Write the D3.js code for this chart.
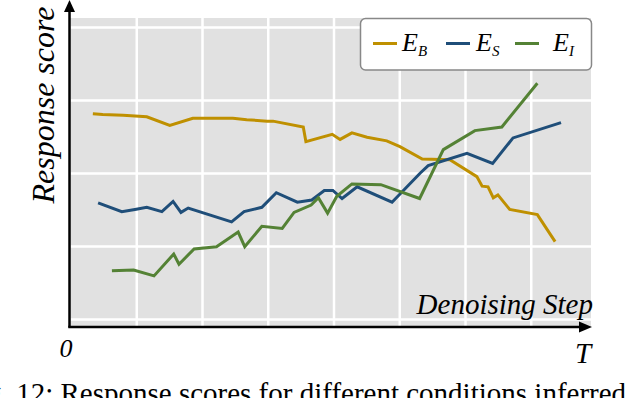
<!DOCTYPE html>
<html>
<head>
<meta charset="utf-8">
<script src="https://cdn.jsdelivr.net/npm/d3@7"></script>
</head>
<body style="margin:0">
<script>
// denoising step (0..~79) and response score (grid units)
const seriesNames = ['B', 'S', 'I'];
const seriesColors = ['#BF9000', '#1F4E79', '#548235'];

const ebX = [3.4, 4.9, 8.0, 9.8, 11.6, 15.1, 18.6, 24.7, 26.8, 29.9, 30.8, 35.4, 35.8, 39.8, 41.0, 42.8, 45.1, 48.1, 50.1, 53.5, 57.7, 61.8, 62.6, 63.5, 64.3, 65.0, 66.8, 71.0, 73.7];
const ebY = [2.81, 2.80, 2.79, 2.78, 2.77, 2.65, 2.75, 2.75, 2.73, 2.71, 2.71, 2.63, 2.43, 2.53, 2.46, 2.55, 2.49, 2.44, 2.36, 2.19, 2.18, 1.95, 1.82, 1.81, 1.66, 1.70, 1.50, 1.43, 1.06];

const esX = [4.2, 7.8, 9.8, 11.6, 13.9, 15.6, 16.8, 17.9, 24.5, 26.4, 29.1, 31.3, 34.5, 36.7, 38.6, 39.9, 41.3, 43.6, 48.9, 53.2, 54.4, 60.3, 64.2, 67.3, 74.6];
const esY = [1.59, 1.47, 1.50, 1.53, 1.47, 1.61, 1.46, 1.52, 1.33, 1.47, 1.53, 1.73, 1.60, 1.63, 1.76, 1.76, 1.65, 1.81, 1.60, 2.00, 2.10, 2.27, 2.13, 2.48, 2.69];

const eiX = [6.3, 9.6, 12.7, 15.7, 16.5, 18.8, 22.2, 25.5, 26.5, 29.1, 32.2, 34.0, 36.6, 37.7, 39.1, 40.5, 42.8, 47.2, 53.1, 56.7, 61.5, 65.6, 71.0];
const eiY = [0.66, 0.67, 0.59, 0.89, 0.75, 0.96, 0.99, 1.19, 0.99, 1.27, 1.24, 1.46, 1.56, 1.66, 1.45, 1.68, 1.85, 1.84, 1.65, 2.32, 2.58, 2.63, 3.23];

const xTicks = [10, 20, 30, 40, 50, 60, 70];
const yTicks = [0, 1, 2, 3, 4];

const width = 628;
const height = 398;
const FONT = "'Liberation Serif'";

const svg = d3.select('body')
    .append('svg')
    .attr('width', width)
    .attr('height', height);

const x = d3.scaleLinear().domain([0, 79.16]).range([70.5, 591]);
const y = d3.scaleLinear().domain([-0.11, 4.123]).range([327, 18]);

// panel background
svg.append('rect')
    .attr('x', x(0) - 0.5)
    .attr('y', y(4.123))
    .attr('width', x(79.16) - x(0) + 0.5)
    .attr('height', y(-0.11) - y(4.123))
    .attr('fill', '#E1E1E1');

// grid lines through axes
const gx = svg.append('g')
    .attr('transform', `translate(0, ${y(-0.11)})`)
    .call(d3.axisBottom(x).tickValues(xTicks).tickSize(-(y(-0.11) - y(4.123))).tickFormat(''));
const gy = svg.append('g')
    .attr('transform', `translate(${x(0)}, 0)`)
    .call(d3.axisLeft(y).tickValues(yTicks).tickSize(-(x(79.16) - x(0))).tickFormat(''));
[gx, gy].forEach(g => {
    g.select('.domain').remove();
    g.selectAll('.tick line').attr('stroke', '#fff').attr('stroke-width', 2.5);
});

// series
const series = [
    { name: seriesNames[0], color: seriesColors[0], xs: ebX, ys: ebY },
    { name: seriesNames[1], color: seriesColors[1], xs: esX, ys: esY },
    { name: seriesNames[2], color: seriesColors[2], xs: eiX, ys: eiY }
];

const line = d3.line()
    .x(d => x(d[0]))
    .y(d => y(d[1]));

svg.selectAll('.series')
    .data(series)
    .enter()
    .append('path')
    .attr('class', 'series')
    .attr('fill', 'none')
    .attr('stroke', d => d.color)
    .attr('stroke-width', 3)
    .attr('d', d => line(d.xs.map((v, i) => [v, d.ys[i]])));

// axes with arrows
svg.append('line')
    .attr('x1', 69.5).attr('y1', 327.5)
    .attr('x2', 69.5).attr('y2', 10)
    .attr('stroke', '#000').attr('stroke-width', 2.5);
svg.append('path')
    .attr('d', 'M69.5,0 L75,12 L64,12 Z')
    .attr('fill', '#000');
svg.append('line')
    .attr('x1', 68.3).attr('y1', 327)
    .attr('x2', 582).attr('y2', 327)
    .attr('stroke', '#000').attr('stroke-width', 2.5);
svg.append('path')
    .attr('d', 'M592,327 L579,321.5 L579,332.5 Z')
    .attr('fill', '#000');

// axis texts
svg.append('text')
    .attr('transform', 'translate(54, 105) rotate(-90)')
    .attr('text-anchor', 'middle')
    .style('font-family', FONT)
    .style('font-style', 'italic')
    .style('font-size', '32px')
    .text('Response score');

svg.append('text')
    .attr('x', 593).attr('y', 314)
    .attr('text-anchor', 'end')
    .style('font-family', FONT)
    .style('font-style', 'italic')
    .style('font-size', '29px')
    .text('Denoising Step');

svg.append('text')
    .attr('x', 66).attr('y', 357)
    .attr('text-anchor', 'middle')
    .style('font-family', FONT)
    .style('font-style', 'italic')
    .style('font-size', '26px')
    .text('0');

svg.append('text')
    .attr('x', 583).attr('y', 363)
    .attr('text-anchor', 'middle')
    .style('font-family', FONT)
    .style('font-style', 'italic')
    .style('font-size', '29px')
    .text('T');

// legend
const legend = svg.append('g');
legend.append('rect')
    .attr('x', 360.5).attr('y', 18.5)
    .attr('width', 231).attr('height', 51.5)
    .attr('rx', 5).attr('ry', 5)
    .attr('fill', '#fff')
    .attr('stroke', '#888')
    .attr('stroke-width', 1.5);

const legendX = [373, 446, 515];
const legendTextX = [402, 476, 553];
series.forEach((s, i) => {
    legend.append('line')
        .attr('x1', legendX[i]).attr('x2', legendX[i] + 24)
        .attr('y1', 43.5).attr('y2', 43.5)
        .attr('stroke', s.color).attr('stroke-width', 3);
    const t = legend.append('text')
        .attr('x', legendTextX[i]).attr('y', 51)
        .style('font-family', FONT)
        .style('font-style', 'italic')
        .style('font-size', '26px');
    t.append('tspan').text('E');
    t.append('tspan')
        .style('font-size', '15px')
        .attr('dy', 5)
        .text(s.name);
});

// caption, cut by the frame as in the figure
svg.append('text')
    .attr('x', -37)
    .attr('y', 403)
    .style('font-family', FONT)
    .style('font-size', '29px')
    .text('Fig. 12: Response scores for different conditions inferred');
</script>
</body>
</html>
